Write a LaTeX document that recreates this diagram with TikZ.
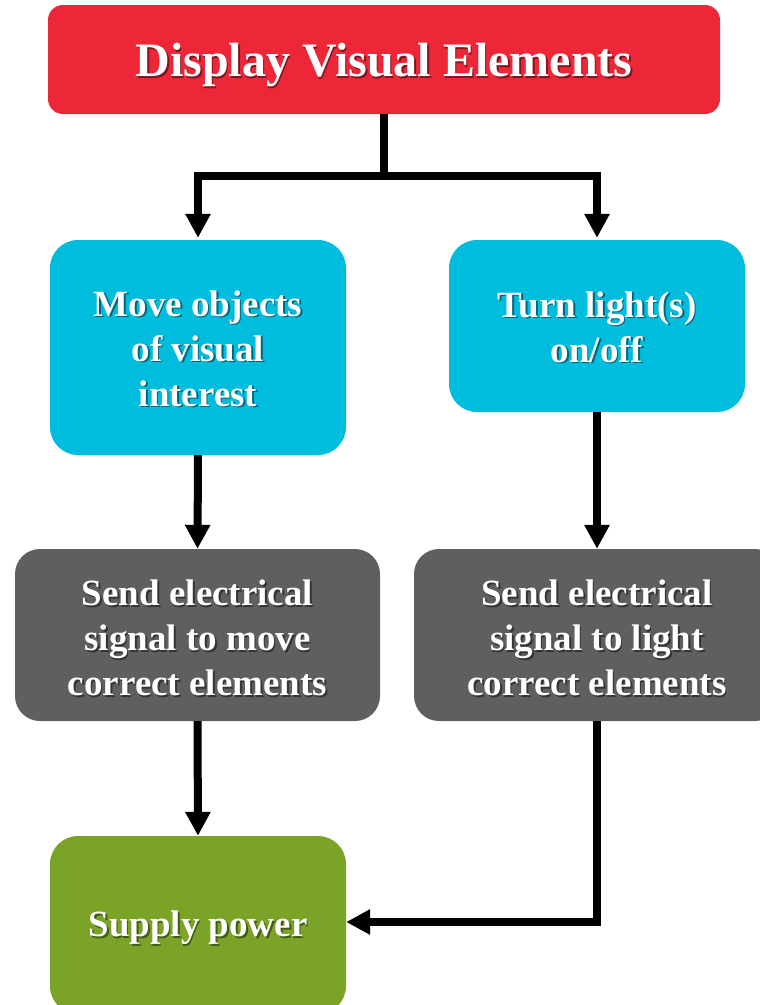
\documentclass[tikz,border=0pt]{standalone}
\usepackage{fontspec}
\setmainfont{Liberation Serif}
\usetikzlibrary{arrows.meta}
\definecolor{cred}{RGB}{237,39,56}
\definecolor{ccyan}{RGB}{0,188,221}
\definecolor{cgray}{RGB}{95,95,95}
\definecolor{cgreen}{RGB}{123,163,40}
\tikzset{
  box/.style={rectangle, rounded corners=#1, inner sep=0pt, draw=none},
  box/.default=28pt,
  txt/.style={align=center, text=white, font=\bfseries\fontsize{37}{45}\selectfont},
  shd/.style={align=center, text=black, opacity=0.45, xshift=1.6pt, yshift=-1.6pt, font=\bfseries\fontsize{37}{45}\selectfont},
  conn/.style={line width=8pt, draw=black, line join=miter},
  arr/.style={conn, -{Triangle[width=24pt,length=24pt]}}
}
\begin{document}
\begin{tikzpicture}[x=1pt,y=-1pt]
\clip (0,0) rectangle (760,1005);
% boxes
\node[box=15pt, fill=cred, minimum width=672pt, minimum height=109pt] (red) at (384,59.5) {};
\node[box, fill=ccyan, minimum width=296pt, minimum height=215pt] (cyanL) at (198,347.5) {};
\node[box, fill=ccyan, minimum width=296pt, minimum height=172pt] (cyanR) at (597,326) {};
\node[box=25pt, fill=cgray, minimum width=365pt, minimum height=172pt] (grayL) at (197.5,635) {};
\node[box=25pt, fill=cgray, minimum width=366pt, minimum height=172pt] (grayR) at (597,635) {};
\node[box, fill=cgreen, minimum width=296pt, minimum height=178pt] (green) at (198,925) {};
% texts
\node[shd, font=\bfseries\fontsize{48}{56}\selectfont] (t1s) at ([yshift=-6pt]red.center) {Display Visual Elements};
\node[txt, font=\bfseries\fontsize{48}{56}\selectfont] (t1) at ([yshift=-6pt]red.center) {Display Visual Elements};
\node[shd] (t2s) at ([yshift=-1pt]cyanL.center) {Move objects\\of visual\\interest};
\node[txt] (t2) at ([yshift=-1pt]cyanL.center) {Move objects\\of visual\\interest};
\node[shd] (t3s) at ([yshift=-1pt]cyanR.center) {Turn light(s)\\on/off};
\node[txt] (t3) at ([yshift=-1pt]cyanR.center) {Turn light(s)\\on/off};
\node[shd] (t4s) at ([yshift=-3pt]grayL.center) {Send electrical\\signal to move\\correct elements};
\node[txt] (t4) at ([yshift=-3pt]grayL.center) {Send electrical\\signal to move\\correct elements};
\node[shd] (t5s) at ([yshift=-3pt]grayR.center) {Send electrical\\signal to light\\correct elements};
\node[txt] (t5) at ([yshift=-3pt]grayR.center) {Send electrical\\signal to light\\correct elements};
\node[shd] (t6s) at ([yshift=-3pt]green.center) {Supply power};
\node[txt] (t6) at ([yshift=-3pt]green.center) {Supply power};
% connectors
\coordinate (split) at (384,176);
\draw[conn] (red.south) -- (split);
\draw[arr] (split) -| ([yshift=2pt]cyanL.north);
\draw[arr] (split) -| ([yshift=2pt]cyanR.north);
\draw[arr] (cyanL.south) -- (grayL.north);
\draw[arr] (cyanR.south) -- (grayR.north);
\draw[arr] (grayL.south) -- (green.north);
\draw[arr] (grayR.south) |- ([yshift=3pt]green.east);
\end{tikzpicture}
\end{document}
